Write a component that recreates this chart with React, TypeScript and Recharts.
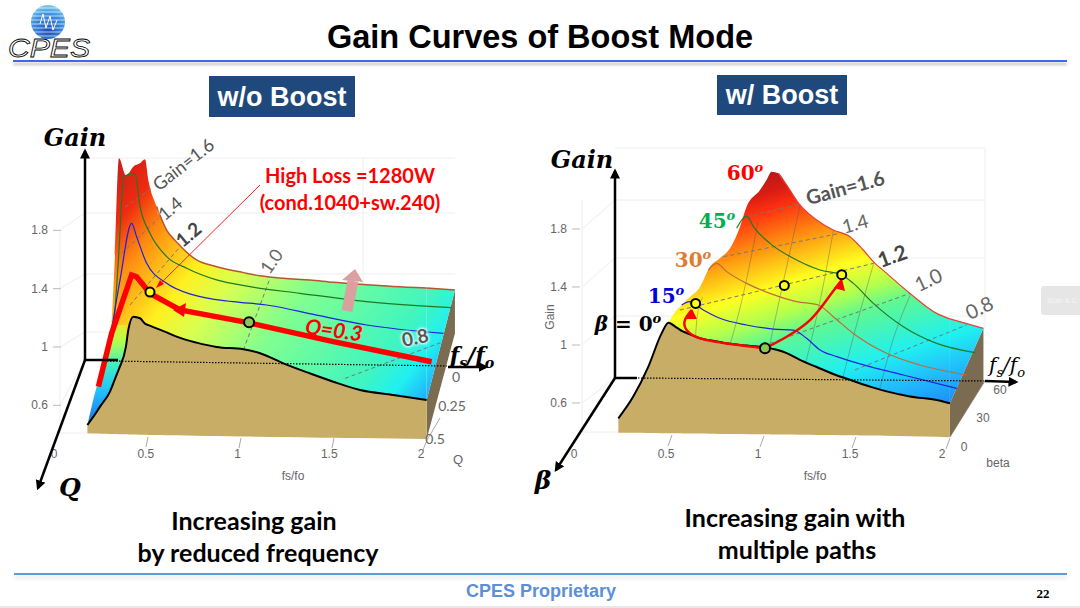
import React from "react";
import { ComposedChart, Area, Line, XAxis, YAxis } from "recharts";

const fsTicks = [0, 0.5, 1, 1.5, 2];
const gainTicks = [0.6, 1, 1.4, 1.8];

// w/o Boost surface (projected fs/fo, gain)
const leftFs = [0.182, 0.233, 0.251, 0.305, 0.332, 0.354, 0.392, 0.405, 0.432, 0.469, 0.496, 0.514, 0.559, 0.614, 0.668, 0.777, 0.886, 1.032, 1.123, 1.25, 1.395, 1.522, 1.668, 1.849, 2.031];
const leftFront = [0.465, 0.556, 0.591, 0.694, 0.78, 0.85, 1.002, 1.117, 1.208, 1.197, 1.16, 1.15, 1.128, 1.1, 1.071, 1.03, 1.0, 0.984, 0.957, 0.888, 0.819, 0.762, 0.705, 0.671, 0.636];
const leftTop = [0.465, 0.728, 0.8, 1.048, 1.62, 2.294, 2.18, 2.19, 2.237, 2.26, 2.287, 2.145, 1.963, 1.802, 1.72, 1.597, 1.551, 1.51, 1.488, 1.471, 1.46, 1.444, 1.43, 1.415, 1.405];
const leftFloor = [0.408, 0.406, 0.405, 0.404, 0.403, 0.402, 0.401, 0.4, 0.399, 0.398, 0.398, 0.397, 0.396, 0.395, 0.394, 0.392, 0.39, 0.386, 0.384, 0.382, 0.379, 0.377, 0.375, 0.372, 0.369];

// the part of the surface running back to the far corner
const leftTailFs = [2.031, 2.185];
const leftTailFront = [0.636, 1.391];
const leftTailTop = [1.405, 1.391];

const leftQ01Fs = [0.323, 0.351, 0.381, 0.441, 0.469, 0.523, 0.614, 0.723, 0.886, 1.068, 1.341, 1.704, 2.167];
const leftQ01 = [1.071, 1.597, 2.168, 2.191, 1.962, 1.78, 1.62, 1.54, 1.46, 1.414, 1.368, 1.311, 1.27];
const leftQ02Fs = [0.305, 0.36, 0.423, 0.45, 0.505, 0.614, 0.759, 0.977, 1.159, 1.431, 1.704, 2.122];
const leftQ02 = [1.048, 1.46, 1.848, 1.757, 1.574, 1.437, 1.357, 1.311, 1.288, 1.219, 1.151, 1.094];
const leftQ03Fs = [0.242, 0.314, 0.423, 0.45, 0.523, 0.687, 1.05, 1.522, 2.058];
const leftQ03 = [0.728, 1.094, 1.494, 1.482, 1.368, 1.254, 1.169, 1.037, 0.899];

const leftIsoFs = [[0.387, 0.532], [0.369, 0.569], [0.414, 0.687], [1.032, 1.177], [1.586, 2.122]];
const leftIsoGain = [[1.958, 2.088], [1.642, 1.882], [1.288, 1.688], [0.979, 1.471], [0.785, 1.037]];

const leftSliverFs = [0.182, 0.233, 0.251, 0.305, 0.332, 0.354, 0.392];
const leftSliverTop = [0.465, 0.728, 0.8, 1.048, 1.15, 1.15, 1.15];
const leftSliverFront = [0.465, 0.556, 0.591, 0.694, 0.78, 0.85, 1.002];

const leftSideFs = [2.031, 2.185];
const leftSideTop = [0.636, 1.391];
const leftSideBottom = [0.369, 1.094];

// w/ Boost surface
const rightFs = [0.241, 0.322, 0.404, 0.476, 0.513, 0.558, 0.594, 0.612, 0.685, 0.739, 0.793, 0.848, 0.902, 0.938, 1.011, 1.047, 1.074, 1.111, 1.156, 1.228, 1.319, 1.409, 1.5, 1.572, 1.627, 1.699, 1.826, 1.971, 2.043];
const rightFront = [0.494, 0.644, 0.851, 1.08, 1.154, 1.12, 1.092, 1.083, 1.046, 1.032, 1.02, 1.008, 1.0, 0.996, 0.988, 0.984, 0.975, 0.964, 0.944, 0.897, 0.848, 0.8, 0.76, 0.728, 0.706, 0.68, 0.645, 0.62, 0.598];
const rightTop = [0.494, 0.644, 0.851, 1.08, 1.154, 1.241, 1.285, 1.31, 1.402, 1.54, 1.598, 1.667, 1.816, 1.954, 2.069, 2.14, 2.195, 2.184, 2.103, 1.966, 1.862, 1.793, 1.747, 1.655, 1.575, 1.494, 1.356, 1.218, 1.18];
const rightFloor = [0.395, 0.394, 0.393, 0.392, 0.391, 0.391, 0.39, 0.39, 0.389, 0.388, 0.387, 0.386, 0.386, 0.385, 0.384, 0.384, 0.383, 0.383, 0.382, 0.381, 0.38, 0.379, 0.377, 0.376, 0.375, 0.374, 0.371, 0.368, 0.363];

const rightTailFs = [2.043, 2.225];
const rightTailFront = [0.598, 1.115];
const rightTailTop = [1.18, 1.115];

const beta15Fs = [0.585, 0.63, 0.703, 0.793, 0.938, 1.083, 1.192, 1.264, 1.337, 1.428, 1.609, 1.79, 2.08];
const beta15 = [1.276, 1.299, 1.241, 1.184, 1.138, 1.11, 1.103, 1.046, 0.966, 0.92, 0.851, 0.793, 0.701];
const beta30Fs = [0.73, 0.775, 0.83, 0.938, 1.065, 1.21, 1.328, 1.409, 1.518, 1.699, 1.88, 2.134];
const beta30 = [1.517, 1.563, 1.506, 1.425, 1.356, 1.299, 1.276, 1.195, 1.08, 0.943, 0.862, 0.793];
const beta45Fs = [0.884, 0.938, 0.975, 1.065, 1.192, 1.337, 1.455, 1.518, 1.627, 1.79, 1.971, 2.179];
const beta45 = [1.805, 1.89, 1.816, 1.701, 1.598, 1.517, 1.483, 1.425, 1.287, 1.126, 1.011, 0.947];

const rightIsoFs = [[0.938, 1.228], [0.812, 1.446], [0.576, 1.627], [1.065, 1.826], [1.527, 2.134]];
const rightIsoGain = [[1.885, 1.972], [1.609, 1.77], [1.241, 1.563], [1.011, 1.356], [0.828, 1.138]];

const meshFs = [[0.66, 0.67, 0.7], [0.85, 0.92, 1.0], [1.06, 1.14, 1.23], [1.26, 1.34, 1.41], [1.46, 1.54, 1.63], [1.66, 1.73, 1.83]];
const meshGain = [[1.05, 1.2, 1.33], [1.01, 1.35, 1.85], [0.98, 1.45, 1.97], [0.88, 1.32, 1.79], [0.77, 1.16, 1.57], [0.69, 1.02, 1.35]];

const rightSideFs = [2.043, 2.225];
const rightSideTop = [0.598, 1.115];
const rightSideBottom = [0.363, 0.736];

const path15Fs = [1.038, 0.83, 0.685, 0.612, 0.603, 0.639];
const path15Gain = [0.977, 1.011, 1.046, 1.103, 1.172, 1.241];
const path45Fs = [1.038, 1.156, 1.283, 1.373, 1.455];
const path45Gain = [0.977, 1.057, 1.172, 1.31, 1.448];

const rightYellowFs = [0.661, 1.143, 1.455];
const rightYellowGain = [1.287, 1.411, 1.485];

const rows = (xs: number[], ys: number[]) => xs.map((x, i) => ({ x, y: ys[i] }));
const bands = (xs: number[], lows: number[], highs: number[]) =>
  xs.map((x, i) => ({ x, band: [lows[i], highs[i]] }));

const TICK_FONT = "'Liberation Sans Narrow', 'Liberation Sans', Arial, sans-serif";
const HEAD_FONT = "'Liberation Sans', Arial, sans-serif";
const MATH_FONT = "'DejaVu Serif', 'Liberation Serif', serif";
const TEXT_FONT = "Lato, 'Open Sans', sans-serif";

function GainTick(props: any) {
  const { x, y, payload } = props;
  return (
    <g>
      <line x1={x + 3} y1={y} x2={x + 11} y2={y} stroke="#bbb" strokeWidth={1} />
      <text x={x - 2} y={y + 4} textAnchor="end" fontSize={12} fontFamily={TICK_FONT} fill="#666">
        {payload.value}
      </text>
    </g>
  );
}

function FsTick(props: any) {
  const { x, y, payload } = props;
  return (
    <text x={x} y={y + 13} textAnchor="middle" fontSize={12} fontFamily={TICK_FONT} fill="#666">
      {payload.value}
    </text>
  );
}

function DashLines({ xs, ys }: { xs: number[][]; ys: number[][] }) {
  return (
    <>
      {xs.map((line, i) => (
        <Line key={"iso" + i} data={rows(line, ys[i])} dataKey="y" stroke="#777" strokeWidth={1} strokeDasharray="4 3" dot={false} isAnimationActive={false} />
      ))}
    </>
  );
}

function Txt({ x, y, size, color, rot, font, bold, italic, glow, children }: any) {
  return (
    <div
      style={{
        position: "absolute", left: x, top: y, whiteSpace: "nowrap", lineHeight: 1,
        transform: `translate(-50%,-50%) rotate(${rot || 0}deg)`,
        fontSize: size, color: color || "#000", fontFamily: font || TEXT_FONT,
        fontWeight: bold === false ? 400 : 700, fontStyle: italic ? "italic" : "normal",
        textShadow: glow ? "0 0 3px #fff, 0 0 3px #fff, 0 0 4px #fff" : undefined,
      }}
    >
      {children}
    </div>
  );
}

const Deg = ({ t }: { t: string }) => (
  <span>{t}<sup style={{ fontSize: "0.65em", fontStyle: "italic", lineHeight: 0 }}>o</sup></span>
);
const FsFo = () => (
  <span style={{ fontStyle: "italic" }}>f<sub style={{ fontSize: "0.65em", lineHeight: 0 }}>s</sub>/f<sub style={{ fontSize: "0.65em", lineHeight: 0 }}>o</sub></span>
);

function LeftChart() {
  return (
    <div style={{ position: "absolute", left: 0, top: 125 }}>
      <ComposedChart width={480} height={345} margin={{ top: 0, right: 0, bottom: 0, left: 0 }}>
        <defs>
          <linearGradient id="leftHeat" gradientUnits="userSpaceOnUse" x1={110} y1={25} x2={440} y2={295}>
            <stop offset="0" stopColor="#b81c1c" />
            <stop offset="0.12" stopColor="#f02a10" />
            <stop offset="0.2" stopColor="#ff8a10" />
            <stop offset="0.33" stopColor="#fff020" />
            <stop offset="0.42" stopColor="#d8ff50" />
            <stop offset="0.57" stopColor="#80ff90" />
            <stop offset="0.8" stopColor="#40f5c0" />
            <stop offset="0.875" stopColor="#20f0f0" />
            <stop offset="0.95" stopColor="#20a8ff" />
            <stop offset="1" stopColor="#1a80f0" />
          </linearGradient>
          <linearGradient id="leftSliver" gradientUnits="userSpaceOnUse" x1={0} y1={300} x2={0} y2={190}>
            <stop offset="0" stopColor="#1a70f0" />
            <stop offset="0.3" stopColor="#20c0ff" />
            <stop offset="0.55" stopColor="#40f0c0" />
            <stop offset="0.75" stopColor="#b0ff50" />
            <stop offset="1" stopColor="#ffe020" />
          </linearGradient>
        </defs>
        <XAxis type="number" dataKey="x" domain={[-0.0218, 2.3215]} ticks={fsTicks} allowDataOverflow height={25} axisLine={false} tickLine={false} tickSize={0} tickMargin={0} tick={<FsTick />} />
        <YAxis type="number" domain={[0.3278, 2.5226]} ticks={gainTicks} allowDataOverflow width={50} axisLine={false} tickLine={false} tickSize={0} tickMargin={0} tick={<GainTick />} />
        <Area data={bands(leftSideFs, leftSideBottom, leftSideTop)} dataKey="band" fill="#7b6b50" fillOpacity={1} stroke="none" isAnimationActive={false} />
        <Area type="monotone" data={bands(leftFs, leftFront, leftTop)} dataKey="band" fill="url(#leftHeat)" fillOpacity={1} stroke="none" isAnimationActive={false} />
        <Area data={bands(leftTailFs, leftTailFront, leftTailTop)} dataKey="band" fill="url(#leftHeat)" fillOpacity={1} stroke="none" isAnimationActive={false} />
        <Area type="monotone" data={bands(leftSliverFs, leftSliverFront, leftSliverTop)} dataKey="band" fill="url(#leftSliver)" fillOpacity={1} stroke="none" isAnimationActive={false} />
        <Area type="monotone" data={bands(leftFs, leftFloor, leftFront)} dataKey="band" fill="#c8ad66" fillOpacity={1} stroke="none" isAnimationActive={false} />
        {DashLines({ xs: leftIsoFs, ys: leftIsoGain })}
        <Line type="monotone" data={rows(leftFs.slice(12), leftTop.slice(12))} dataKey="y" stroke="#b5562c" strokeWidth={1.5} dot={false} isAnimationActive={false} />
        <Line data={rows(leftTailFs, leftTailTop)} dataKey="y" stroke="#b5562c" strokeWidth={1.5} dot={false} isAnimationActive={false} />
        <Line type="monotone" data={rows(leftQ01Fs, leftQ01)} dataKey="y" stroke="#1f7a1f" strokeWidth={1.2} dot={false} isAnimationActive={false} />
        <Line type="monotone" data={rows(leftQ02Fs, leftQ02)} dataKey="y" stroke="#2020e0" strokeWidth={1.2} dot={false} isAnimationActive={false} />
        <Line type="monotone" data={rows(leftFs, leftFront)} dataKey="y" stroke="#000" strokeWidth={2} dot={false} isAnimationActive={false} />
        <Line data={rows(leftQ03Fs, leftQ03)} dataKey="y" stroke="#ff0000" strokeWidth={5.5} dot={false} isAnimationActive={false} />
        <Line data={rows([0.523], [1.377])} dataKey="y" stroke="none" dot={{ r: 4.5, fill: "#ffff20", stroke: "#000", strokeWidth: 2 }} isAnimationActive={false} />
        <Line data={rows([1.063], [1.169])} dataKey="y" stroke="none" dot={{ r: 5, fill: "#8cc850", stroke: "#000", strokeWidth: 2 }} isAnimationActive={false} />
      </ComposedChart>
    </div>
  );
}

function RightChart() {
  return (
    <div style={{ position: "absolute", left: 519, top: 125 }}>
      <ComposedChart width={496} height={345} margin={{ top: 0, right: 0, bottom: 0, left: 0 }}>
        <defs>
          <linearGradient id="rightHeat" gradientUnits="userSpaceOnUse" x1={241} y1={45} x2={328} y2={322}>
            <stop offset="0" stopColor="#b01818" />
            <stop offset="0.08" stopColor="#d81c14" />
            <stop offset="0.14" stopColor="#ff3010" />
            <stop offset="0.27" stopColor="#ff9a10" />
            <stop offset="0.4" stopColor="#ffff20" />
            <stop offset="0.5" stopColor="#b0ff50" />
            <stop offset="0.57" stopColor="#60f890" />
            <stop offset="0.74" stopColor="#20f0f0" />
            <stop offset="0.88" stopColor="#20b0ff" />
            <stop offset="1" stopColor="#1a80f0" />
          </linearGradient>
        </defs>
        <XAxis type="number" dataKey="x" domain={[-0.0272, 2.3967]} ticks={fsTicks} allowDataOverflow height={25} axisLine={false} tickLine={false} tickSize={0} tickMargin={0} tick={<FsTick />} />
        <YAxis type="number" domain={[0.3103, 2.5172]} ticks={gainTicks} allowDataOverflow width={50} axisLine={false} tickLine={false} tickSize={0} tickMargin={0} tick={<GainTick />} />
        <Area data={bands(rightSideFs, rightSideBottom, rightSideTop)} dataKey="band" fill="#7b6b50" fillOpacity={1} stroke="none" isAnimationActive={false} />
        <Area type="monotone" data={bands(rightFs.slice(4), rightFront.slice(4), rightTop.slice(4))} dataKey="band" fill="url(#rightHeat)" fillOpacity={1} stroke="none" isAnimationActive={false} />
        <Area data={bands(rightTailFs, rightTailFront, rightTailTop)} dataKey="band" fill="url(#rightHeat)" fillOpacity={1} stroke="none" isAnimationActive={false} />
        <Area type="monotone" data={bands(rightFs, rightFloor, rightFront)} dataKey="band" fill="#c8ad66" fillOpacity={1} stroke="none" isAnimationActive={false} />
        {meshFs.map((line, i) => (
          <Line key={"mesh" + i} type="monotone" data={rows(line, meshGain[i])} dataKey="y" stroke="#555" strokeOpacity={0.5} strokeWidth={0.8} dot={false} isAnimationActive={false} />
        ))}
        {DashLines({ xs: rightIsoFs, ys: rightIsoGain })}
        <Line type="monotone" data={rows(rightFs.slice(17), rightTop.slice(17))} dataKey="y" stroke="#e84030" strokeWidth={1.2} dot={false} isAnimationActive={false} />
        <Line data={rows(rightTailFs, rightTailTop)} dataKey="y" stroke="#e84030" strokeWidth={1.2} dot={false} isAnimationActive={false} />
        <Line type="monotone" data={rows(beta15Fs, beta15)} dataKey="y" stroke="#2020e0" strokeWidth={1.2} dot={false} isAnimationActive={false} />
        <Line type="monotone" data={rows(beta30Fs, beta30)} dataKey="y" stroke="#c06a3a" strokeWidth={1.2} dot={false} isAnimationActive={false} />
        <Line type="monotone" data={rows(beta45Fs, beta45)} dataKey="y" stroke="#1f7a1f" strokeWidth={1.2} dot={false} isAnimationActive={false} />
        <Line type="monotone" data={rows(rightFs, rightFront)} dataKey="y" stroke="#000" strokeWidth={2} dot={false} isAnimationActive={false} />
        <Line data={rows(path15Fs, path15Gain)} dataKey="y" type="natural" stroke="#ff0000" strokeWidth={2.5} dot={false} isAnimationActive={false} />
        <Line data={rows(path45Fs, path45Gain)} dataKey="y" type="natural" stroke="#ff0000" strokeWidth={2.5} dot={false} isAnimationActive={false} />
        <Line data={rows(rightYellowFs, rightYellowGain)} dataKey="y" stroke="none" dot={{ r: 4.5, fill: "#ffff20", stroke: "#000", strokeWidth: 2 }} isAnimationActive={false} />
        <Line data={rows([1.038], [0.977])} dataKey="y" stroke="none" dot={{ r: 5, fill: "#8cc850", stroke: "#000", strokeWidth: 2 }} isAnimationActive={false} />
      </ComposedChart>
    </div>
  );
}

function Logo() {
  const stripes = [8, 12, 16, 20, 24, 28, 32, 36];
  return (
    <svg width={100} height={62} style={{ position: "absolute", left: 0, top: 0 }}>
      <defs>
        <radialGradient id="globe" cx="0.5" cy="0.75" r="0.8">
          <stop offset="0" stopColor="#1c4fb8" />
          <stop offset="0.6" stopColor="#3f8fe0" />
          <stop offset="1" stopColor="#7fd8f0" />
        </radialGradient>
      </defs>
      <circle cx={48} cy={22} r={17} fill="url(#globe)" />
      {stripes.map((y) => (
        <line key={y} x1={30} x2={66} y1={y} y2={y} stroke="#fff" strokeWidth={1} strokeOpacity={0.65} />
      ))}
      <path d="M40 24 L43 14 L46 28 L50 16 L53 30 L57 20" fill="none" stroke="#fff" strokeWidth={1} />
      <text x={8} y={57} fontFamily={HEAD_FONT} fontStyle="italic" fontSize={26} textLength={82} lengthAdjust="spacingAndGlyphs" fill="#fff" stroke="#000" strokeWidth={0.8}>CPES</text>
    </svg>
  );
}

export default function App() {
  return (
    <div style={{ position: "absolute", left: 0, top: 0, width: 1080, height: 608, background: "#fff", overflow: "hidden" }}>
      <Logo />
      <div style={{ position: "absolute", left: 13, top: 60, width: 1054, height: 2, background: "#3f66ee", boxShadow: "0 3px 3px #bbb" }} />
      <div style={{ position: "absolute", left: 14, top: 573, width: 1053, height: 2, background: "#5f9bd5", boxShadow: "0 3px 4px #ddd" }} />
      <div style={{ position: "absolute", left: 0, top: 606, width: 1080, height: 2, background: "#e8e8e8" }} />
      <div style={{ position: "absolute", left: 1041, top: 286, width: 39, height: 29, background: "#e6e6e6", borderRadius: "3px 0 0 3px", overflow: "hidden", color: "#f6f6f6", fontSize: 7, lineHeight: "29px", paddingLeft: 6, fontFamily: HEAD_FONT, whiteSpace: "nowrap" }}>Scan &amp; C</div>

      <Txt x={540} y={37} size={32.5} font={HEAD_FONT}>Gain Curves of Boost Mode</Txt>
      <div style={{ position: "absolute", left: 209, top: 76, width: 146, height: 41, background: "#1f497d" }} />
      <div style={{ position: "absolute", left: 717, top: 75, width: 130, height: 40, background: "#1f497d" }} />
      <Txt x={282} y={97} size={27} color="#fff" font={HEAD_FONT}>w/o Boost</Txt>
      <Txt x={782} y={95} size={27} color="#fff" font={HEAD_FONT}>w/ Boost</Txt>

      {/* faint walls behind the surfaces */}
      <svg width={1080} height={608} style={{ position: "absolute", left: 0, top: 0 }}>
        <g stroke="#eeeeee" strokeWidth={1} fill="none">
          <path d="M60 230 V433 H90 M60 433 L85 360 M60 230 L85 213 H455 M60 288 L85 274 H455 M60 347 L85 332 H455 M60 405 L85 360 M85 158 H455 M363 158 V290" />
          <path d="M582 200 V432 H620 M582 432 L615 378 M582 229 L615 200 H985 M582 287 L615 258 H985 M582 345 L615 316 H985 M582 403 L615 378 M615 148 H985 M985 148 V330" />
        </g>
        <g stroke="#aaa" strokeWidth={1}>
          <path d="M148 437 L146 447 M241 438 L239 448 M334 438 L332 448 M427 440 L423 450 M427 440 L440 418" />
          <path d="M672 435 L668 446 M764 436 L760 447 M856 437 L852 448 M950 438 L946 449 M950 437 L985 381" />
        </g>
      </svg>

      <LeftChart />
      <RightChart />

      {/* arrows and axes of the 3D box */}
      <svg width={1080} height={608} style={{ position: "absolute", left: 0, top: 0 }}>
        <defs>
          <marker id="ah" markerWidth="5" markerHeight="5" refX="3" refY="2" orient="auto" markerUnits="strokeWidth">
            <path d="M0 0 L4 2 L0 4 Z" fill="#000" />
          </marker>
        </defs>
        <g stroke="#000" fill="none" strokeWidth={2.5}>
          <path d="M85 360 V151" markerEnd="url(#ah)" />
          <path d="M85 360 L38 488" markerEnd="url(#ah)" />
          <path d="M85 360 H118" />
          <path d="M448 367 H486" markerEnd="url(#ah)" />
          <path d="M615 378 V171" markerEnd="url(#ah)" />
          <path d="M615 378 L556 470" markerEnd="url(#ah)" />
          <path d="M615 378 H637" />
          <path d="M985 381 L1016 382" markerEnd="url(#ah)" />
        </g>
        <path d="M107 361 L447 366" stroke="#000" strokeWidth={1.2} strokeDasharray="1.5 1.5" />
        <path d="M638 378 L985 381" stroke="#000" strokeWidth={1.2} strokeDasharray="1.5 1.5" />
        <path d="M347 311 L353 281" stroke="#d9a0a0" strokeWidth={11} />
        <path d="M355 269 L363 282 L342 280 Z" fill="#d9a0a0" />
        <path d="M173 310 L186 303 L184 317 Z" fill="#ff0000" />
        <path d="M260 185 L160 284" stroke="#ff2020" strokeWidth={1} />
        <path d="M156 288 L164 284 L160 280 Z" fill="#ff0000" />
        <path d="M692 309 L686 319 L697 319 Z" fill="#ff0000" />
        <path d="M842 279 L834 288 L845 291 Z" fill="#ff0000" />
      </svg>

      <Txt x={293} y={476} size={12} bold={false} font={TICK_FONT} color="#666">fs/fo</Txt>
      <Txt x={815} y={476} size={12} bold={false} font={TICK_FONT} color="#666">fs/fo</Txt>
      <Txt x={550} y={317} size={12} bold={false} font={TICK_FONT} color="#666" rot={-90}>Gain</Txt>

      <Txt x={75} y={138} size={24} font={MATH_FONT} italic>Gain</Txt>
      <Txt x={70} y={487} size={25} font={MATH_FONT} italic>Q</Txt>
      <Txt x={472} y={355} size={22} font={MATH_FONT}><FsFo /></Txt>
      <Txt x={350} y={175} size={20} color="#ff0000">High Loss =1280W</Txt>
      <Txt x={350} y={202} size={20} color="#ff0000">(cond.1040+sw.240)</Txt>
      <Txt x={334} y={329} size={21} color="#ff0000" italic rot={8}>Q=0.3</Txt>
      <Txt x={415} y={337} size={19} color="#555" rot={-12} glow>0.8</Txt>
      <Txt x={183} y={164} size={18} color="#555" rot={-38} bold={false} glow>Gain=1.6</Txt>
      <Txt x={170} y={208} size={18} color="#555" rot={-40} bold={false} glow>1.4</Txt>
      <Txt x={188} y={234} size={19} color="#444" rot={-40} glow>1.2</Txt>
      <Txt x={271} y={261} size={18} color="#666" rot={-55} bold={false} glow>1.0</Txt>
      <Txt x={456} y={377} size={14} color="#666" bold={false}>0</Txt>
      <Txt x={452} y={406} size={14} color="#666" bold={false}>0.25</Txt>
      <Txt x={435} y={439} size={14} color="#666" bold={false}>0.5</Txt>
      <Txt x={458} y={459} size={13} color="#666" bold={false} font={TICK_FONT}>Q</Txt>

      <Txt x={582} y={160} size={24} font={MATH_FONT} italic>Gain</Txt>
      <Txt x={543} y={480} size={25} font={MATH_FONT} italic>β</Txt>
      <Txt x={1007} y={365} size={20} font={MATH_FONT} bold={false}><FsFo /></Txt>
      <Txt x={745} y={173} size={20} color="#ff0000" font={MATH_FONT}><Deg t="60" /></Txt>
      <Txt x={717} y={221} size={20} color="#00b050" font={MATH_FONT}><Deg t="45" /></Txt>
      <Txt x={693} y={260} size={20} color="#e07b30" font={MATH_FONT}><Deg t="30" /></Txt>
      <Txt x={666} y={296} size={20} color="#0000e0" font={MATH_FONT}><Deg t="15" /></Txt>
      <Txt x={628} y={324} size={20} font={MATH_FONT}><i>β</i> = <Deg t="0" /></Txt>
      <Txt x={845} y={187} size={20} color="#555" rot={-15}>Gain=1.6</Txt>
      <Txt x={855} y={223} size={19} color="#666" rot={-15} bold={false}>1.4</Txt>
      <Txt x={892} y={255} size={21} color="#444" rot={-20}>1.2</Txt>
      <Txt x={928} y={279} size={20} color="#666" rot={-25} bold={false}>1.0</Txt>
      <Txt x={979} y={307} size={20} color="#666" rot={-25} bold={false}>0.8</Txt>
      <Txt x={1000} y={390} size={12} color="#666" bold={false} font={TICK_FONT}>60</Txt>
      <Txt x={983} y={418} size={12} color="#666" bold={false} font={TICK_FONT}>30</Txt>
      <Txt x={964} y={447} size={12} color="#666" bold={false} font={TICK_FONT}>0</Txt>
      <Txt x={998} y={463} size={12} color="#666" bold={false} font={TICK_FONT}>beta</Txt>

      <Txt x={254} y={520} size={25}>Increasing gain</Txt>
      <Txt x={258} y={552} size={25}>by reduced frequency</Txt>
      <Txt x={795} y={517} size={25}>Increasing gain with</Txt>
      <Txt x={797} y={549} size={25}>multiple paths</Txt>

      <Txt x={541} y={591} size={18} color="#5b8fd8" font={HEAD_FONT}>CPES Proprietary</Txt>
      <Txt x={1043} y={593} size={13} font="'Liberation Serif', serif">22</Txt>
    </div>
  );
}
